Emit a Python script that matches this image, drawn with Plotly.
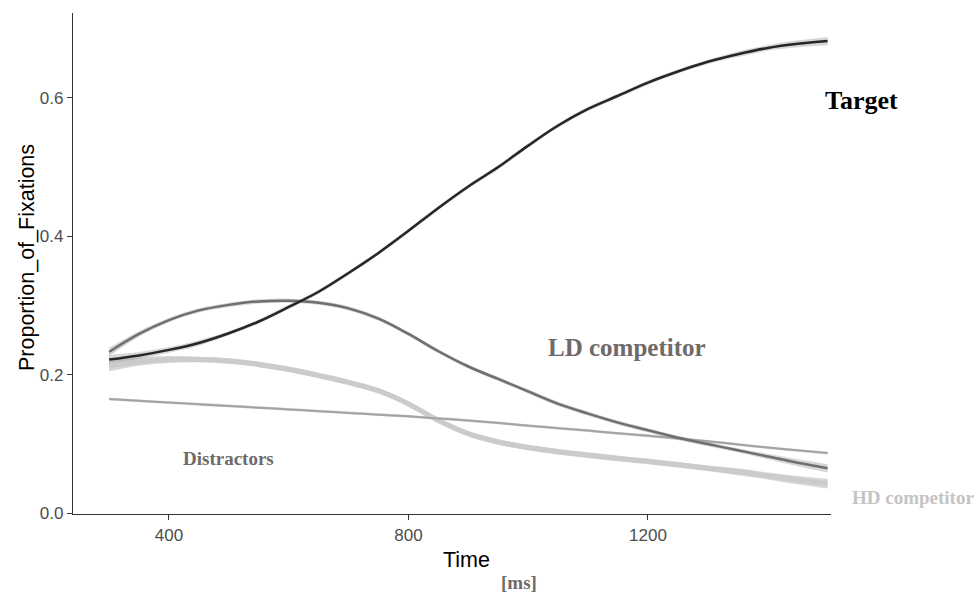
import plotly.graph_objects as go

# ---- data ----
time_ms = [300, 350, 400, 450, 500, 550, 600, 650, 700, 750, 800, 850, 900,
           950, 1000, 1050, 1100, 1150, 1200, 1250, 1300, 1350, 1400, 1450, 1500]

target = [0.222, 0.228, 0.236, 0.246, 0.260, 0.277, 0.298, 0.320, 0.347, 0.376,
          0.408, 0.441, 0.472, 0.500, 0.531, 0.560, 0.584, 0.603, 0.622, 0.638,
          0.652, 0.663, 0.672, 0.678, 0.682]
target_se = [0.007, 0.005, 0.004, 0.004, 0.003, 0.003, 0.003, 0.003, 0.003, 0.003,
             0.003, 0.003, 0.003, 0.003, 0.003, 0.003, 0.003, 0.003, 0.003, 0.003,
             0.003, 0.004, 0.004, 0.005, 0.006]

ld_comp = [0.233, 0.259, 0.279, 0.293, 0.301, 0.306, 0.307, 0.304, 0.296, 0.281,
           0.259, 0.234, 0.212, 0.194, 0.176, 0.158, 0.144, 0.131, 0.120, 0.109,
           0.100, 0.091, 0.082, 0.073, 0.065]
ld_se = [0.006, 0.004, 0.003, 0.003, 0.003, 0.003, 0.003, 0.003, 0.003, 0.003,
         0.003, 0.003, 0.003, 0.003, 0.003, 0.003, 0.003, 0.003, 0.003, 0.003,
         0.003, 0.003, 0.004, 0.005, 0.006]

hd_comp = [0.213, 0.219, 0.222, 0.222, 0.220, 0.215, 0.208, 0.199, 0.189, 0.177,
           0.158, 0.134, 0.115, 0.103, 0.095, 0.089, 0.084, 0.079, 0.075, 0.070,
           0.065, 0.060, 0.054, 0.048, 0.043]
hd_se = [0.008, 0.006, 0.005, 0.004, 0.004, 0.004, 0.004, 0.004, 0.004, 0.004,
         0.004, 0.004, 0.004, 0.004, 0.004, 0.004, 0.004, 0.004, 0.004, 0.004,
         0.004, 0.005, 0.005, 0.006, 0.007]

distractors = [0.165, 0.1625, 0.160, 0.1575, 0.155, 0.1525, 0.150, 0.1475, 0.145,
               0.1425, 0.140, 0.137, 0.134, 0.1305, 0.1265, 0.123, 0.1195, 0.1155,
               0.112, 0.108, 0.104, 0.0995, 0.095, 0.091, 0.087]
dis_se = [0.002] * 25

x_ticks = [400, 800, 1200]
y_ticks = [0.0, 0.2, 0.4, 0.6]
y_ticklabels = ["0.0", "0.2", "0.4", "0.6"]

fig = go.Figure()

ribbon_fill = "rgba(153,153,153,0.40)"


def add_ribbon(y, se):
    upper = [a + b for a, b in zip(y, se)]
    lower = [a - b for a, b in zip(y, se)]
    fig.add_trace(go.Scatter(x=time_ms, y=upper, mode="lines",
                             line=dict(width=0, shape="spline"), hoverinfo="skip", showlegend=False))
    fig.add_trace(go.Scatter(x=time_ms, y=lower, mode="lines", fill="tonexty",
                             fillcolor=ribbon_fill, line=dict(width=0, shape="spline"),
                             hoverinfo="skip", showlegend=False))


for yy, ss in [(hd_comp, hd_se), (distractors, dis_se), (ld_comp, ld_se), (target, target_se)]:
    add_ribbon(yy, ss)

fig.add_trace(go.Scatter(x=time_ms, y=hd_comp, mode="lines",
                         line=dict(color="#cbcbcb", width=5, shape="spline"),
                         name="HD competitor", showlegend=False))
fig.add_trace(go.Scatter(x=time_ms, y=distractors, mode="lines",
                         line=dict(color="#a3a3a3", width=2, shape="spline"),
                         name="Distractors", showlegend=False))
fig.add_trace(go.Scatter(x=time_ms, y=ld_comp, mode="lines",
                         line=dict(color="#6f6f6f", width=2.5, shape="spline"),
                         name="LD competitor", showlegend=False))
fig.add_trace(go.Scatter(x=time_ms, y=target, mode="lines",
                         line=dict(color="#262626", width=2.5, shape="spline"),
                         name="Target", showlegend=False))

L, R, T, B = 73, 148, 13, 80
W, H = 979, 594
pw, ph = W - L - R, H - T - B


def px(xp):
    return (xp - L) / pw


def py(yp):
    return (H - B - yp) / ph


serif = "Liberation Serif"
sans = "Liberation Sans, Arial, sans-serif"

annotations = [
    dict(text="<b>Target</b>", x=px(861), y=py(100), font=dict(family=serif, size=26, color="#000000")),
    dict(text="<b>LD competitor</b>", x=px(627), y=py(347), font=dict(family=serif, size=25, color="#6e6a6a")),
    dict(text="<b>Distractors</b>", x=px(228), y=py(458), font=dict(family=serif, size=19, color="#6e6a6a")),
    dict(text="<b>HD competitor</b>", x=px(913), y=py(497), font=dict(family=serif, size=19, color="#c4c4c4")),
    dict(text="<b>[ms]</b>", x=px(519), y=py(582), font=dict(family=serif, size=19, color="#6e6a6a")),
    dict(text="Time", x=px(466), y=py(560), font=dict(family=sans, size=21.5, color="#000000")),
    dict(text="Proportion_of_Fixations", x=px(27), y=py(258), textangle=-90,
         font=dict(family=sans, size=21.5, color="#000000")),
]
for a in annotations:
    a.update(xref="paper", yref="paper", showarrow=False, xanchor="center", yanchor="middle")

fig.update_layout(
    width=W, height=H,
    margin=dict(l=L, r=R, t=T, b=B),
    paper_bgcolor="white", plot_bgcolor="white",
    showlegend=False,
    annotations=annotations,
    xaxis=dict(range=[239.7, 1505.7], tickvals=x_ticks, showgrid=False, zeroline=False,
               showline=True, linecolor="#333333", linewidth=1.2,
               ticks="outside", ticklen=5, tickcolor="#333333", tickwidth=1.2,
               tickfont=dict(family=sans, size=17, color="#4d4d4d")),
    yaxis=dict(range=[-0.001, 0.7225], tickvals=y_ticks, ticktext=y_ticklabels,
               showgrid=False, zeroline=False,
               showline=True, linecolor="#333333", linewidth=1.2,
               ticks="outside", ticklen=5, tickcolor="#333333", tickwidth=1.2,
               tickfont=dict(family=sans, size=17, color="#4d4d4d")),
)

fig.write_html("out.html")
